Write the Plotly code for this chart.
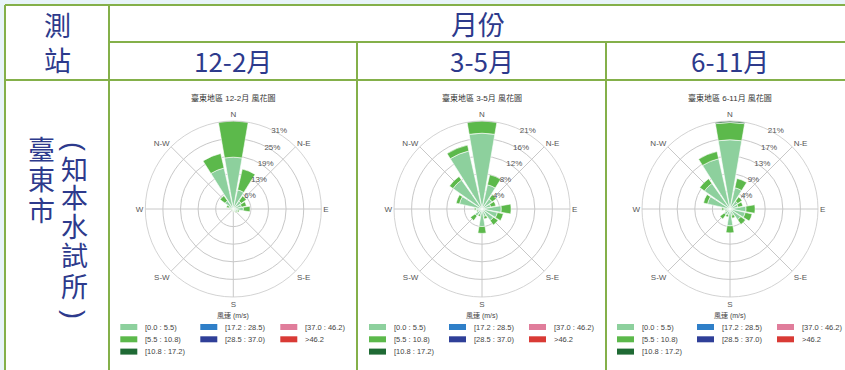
import plotly.graph_objects as go

W, H = 845, 370

# 16 compass sectors, clockwise from north
directions = ["N", "NNE", "NE", "ENE", "E", "ESE", "SE", "SSE",
              "S", "SSW", "SW", "WSW", "W", "WNW", "NW", "NNW"]
bearings = [0, 22.5, 45, 67.5, 90, 112.5, 135, 157.5,
            180, 202.5, 225, 247.5, 270, 292.5, 315, 337.5]

compass_vals = [0, 45, 90, 135, 180, 225, 270, 315]
compass_text = ["N", "N-E", "E", "S-E", "S", "S-W", "W", "N-W"]

speed_bins = ["[0.0 : 5.5)", "[5.5 : 10.8)", "[10.8 : 17.2)", "[17.2 : 28.5)",
              "[28.5 : 37.0)", "[37.0 : 46.2)", ">46.2"]
bin_colors = ["#8dd09d", "#5cb94b", "#1f6a34", "#2f7fc8", "#2f3f98", "#e07d9b", "#d93a35"]
legend_columns = [[0, 1, 2], [3, 4], [5, 6]]

periods = ["12-2月", "3-5月", "6-11月"]
rose_titles = ["臺東地區 12-2月 風花圖", "臺東地區 3-5月 風花圖", "臺東地區 6-11月 風花圖"]

# frequency (%) of each speed class by direction
dec_feb_0_55 = [18.5, 7.0, 3.5, 3.0, 3.6, 1.6, 1.2, 0.8, 0.8, 0.6, 0.5, 0.6, 1.0, 1.6, 3.6, 15.0]
dec_feb_55_108 = [12.9, 7.6, 2.2, 1.8, 2.4, 0.6, 0.4, 0.2, 0.2, 0.1, 0.1, 0.2, 0.4, 0.9, 2.2, 5.3]

mar_may_0_55 = [17.7, 5.8, 2.9, 2.1, 4.5, 3.7, 3.3, 1.8, 4.1, 1.3, 2.0, 1.0, 1.4, 5.4, 8.3, 13.9]
mar_may_55_108 = [2.85, 2.4, 1.2, 1.2, 2.3, 1.4, 1.3, 0.6, 1.6, 0.5, 1.3, 0.3, 0.4, 0.8, 1.0, 1.4]

jun_nov_0_55 = [16.8, 5.3, 2.3, 2.0, 3.9, 3.8, 3.2, 1.6, 4.1, 1.4, 1.7, 0.9, 1.5, 5.6, 7.6, 12.5]
jun_nov_55_108 = [4.2, 2.3, 1.3, 1.2, 2.2, 1.7, 1.4, 0.7, 1.7, 0.6, 1.3, 0.3, 0.5, 1.0, 1.4, 1.8]
jun_nov_108_172 = [0.35, 0, 0, 0, 0, 0, 0, 0, 0, 0, 0, 0, 0, 0, 0, 0]

season_series = [
    [dec_feb_0_55, dec_feb_55_108],
    [mar_may_0_55, mar_may_55_108],
    [jun_nov_0_55, jun_nov_55_108, jun_nov_108_172],
]

# page geometry (pixels)
centers_x = [233.3, 482, 730]
center_y = 209
radius = 88
navy = "#2d3a8c"
rule = "#84b04a"
cjk = "Noto Sans CJK TC, Noto Sans CJK SC, sans-serif"
latin = "Liberation Sans, Noto Sans CJK TC, sans-serif"


def px(x):
    return x / W


def py(y):
    return 1 - y / H


fig = go.Figure()
layout_polars = {}
annotations = []
shapes = []

for i, series in enumerate(season_series):
    name = "polar" if i == 0 else f"polar{i + 1}"
    for b, vals in enumerate(series):
        if not any(vals):
            continue
        fig.add_trace(go.Barpolar(
            r=vals, theta=bearings, width=19.5,
            marker=dict(color=bin_colors[b], line=dict(color="white", width=0.6)),
            name=speed_bins[b], subplot=name, showlegend=False,
            hovertext=directions,
        ))
    totals = [sum(v[k] for v in series) for k in range(len(bearings))]
    rmax = max(totals)
    rticks = [rmax * k / 5 for k in range(1, 6)]
    cx = centers_x[i]
    layout_polars[name] = dict(
        domain=dict(x=[px(cx - radius), px(cx + radius)],
                    y=[py(center_y + radius), py(center_y - radius)]),
        bgcolor="white",
        barmode="stack",
        angularaxis=dict(
            direction="clockwise", rotation=90,
            tickmode="array", tickvals=compass_vals, ticktext=compass_text,
            ticks="", showgrid=True, gridcolor="#c8c8c8", gridwidth=0.8,
            showline=True, linecolor="#c8c8c8", linewidth=0.8,
            tickfont=dict(family=latin, size=8, color="#555"),
        ),
        radialaxis=dict(
            range=[0, rmax], tickmode="array", tickvals=rticks,
            ticktext=[f"{round(v)}%" for v in rticks],
            angle=67.5, tickangle=67.5, side="clockwise",
            showline=False, ticks="",
            gridcolor="#c8c8c8", gridwidth=0.8,
            tickfont=dict(family=latin, size=8, color="#555"),
        ),
    )

    # rose title
    annotations.append(dict(x=px(cx), y=py(98), text=rose_titles[i], showarrow=False,
                            xanchor="center", yanchor="middle",
                            font=dict(family=latin, size=8, color="#333")))
    # speed-class key
    annotations.append(dict(x=px(cx), y=py(315), text="風速 (m/s)", showarrow=False,
                            xanchor="center", yanchor="middle",
                            font=dict(family=latin, size=7, color="#444")))
    for c, col in enumerate(legend_columns):
        for r, b in enumerate(col):
            yy = 327 + 12.3 * r
            x0 = cx - 113 + 80 * c
            shapes.append(dict(type="rect", xref="paper", yref="paper",
                               x0=px(x0), x1=px(x0 + 17), y0=py(yy + 3), y1=py(yy - 3),
                               fillcolor=bin_colors[b], line=dict(width=0)))
            annotations.append(dict(x=px(x0 + 23), y=py(yy), text=speed_bins[b],
                                    showarrow=False, xanchor="left", yanchor="middle",
                                    font=dict(family=latin, size=7.5, color="#444")))

    # period header
    annotations.append(dict(x=px(cx), y=py(61), text=periods[i], showarrow=False,
                            xanchor="center", yanchor="middle",
                            font=dict(family=cjk, size=26, color=navy)))

# header texts
annotations.append(dict(x=px(478), y=py(23), text="月份", showarrow=False,
                        xanchor="center", yanchor="middle",
                        font=dict(family=cjk, size=27, color=navy)))
for ch, yy in zip("測站", [24, 59]):
    annotations.append(dict(x=px(57), y=py(yy), text=ch, showarrow=False,
                            xanchor="center", yanchor="middle",
                            font=dict(family=cjk, size=27, color=navy)))

# station name, written vertically
for ch, yy in zip("臺東市", [148, 178, 209]):
    annotations.append(dict(x=px(41), y=py(yy), text=ch, showarrow=False,
                            xanchor="center", yanchor="middle",
                            font=dict(family=cjk, size=27, color=navy)))
for ch, yy in zip("知本水試所", [168, 196, 225, 254, 285]):
    annotations.append(dict(x=px(74), y=py(yy), text=ch, showarrow=False,
                            xanchor="center", yanchor="middle",
                            font=dict(family=cjk, size=27, color=navy)))
# brackets turned on their side for vertical writing
for ch, yy in zip("()", [146, 314]):
    annotations.append(dict(x=px(74), y=py(yy), text=ch, showarrow=False,
                            textangle=90, xanchor="center", yanchor="middle",
                            font=dict(family=latin, size=27, color=navy)))

# table body and rules
shapes.insert(0, dict(type="rect", xref="paper", yref="paper", layer="below",
                      x0=px(5), x1=px(W + 2), y0=py(H + 2), y1=py(5),
                      fillcolor="white", line=dict(width=0)))
rules = [
    (5, 5, W + 2, 5), (109, 42, W + 2, 42), (5, 80, W + 2, 80),
    (5, 5, 5, H + 2), (109, 5, 109, H + 2),
    (357, 42, 357, H + 2), (606, 42, 606, H + 2),
]
for x0, y0, x1, y1 in rules:
    shapes.append(dict(type="line", xref="paper", yref="paper",
                       x0=px(x0), y0=py(y0), x1=px(x1), y1=py(y1),
                       line=dict(color=rule, width=2)))

fig.update_layout(
    width=W, height=H,
    margin=dict(l=0, r=0, t=0, b=0),
    paper_bgcolor="#e8f4f9",
    plot_bgcolor="white",
    showlegend=False,
    annotations=annotations,
    shapes=shapes,
    **layout_polars,
)

fig.write_html("out.html")
